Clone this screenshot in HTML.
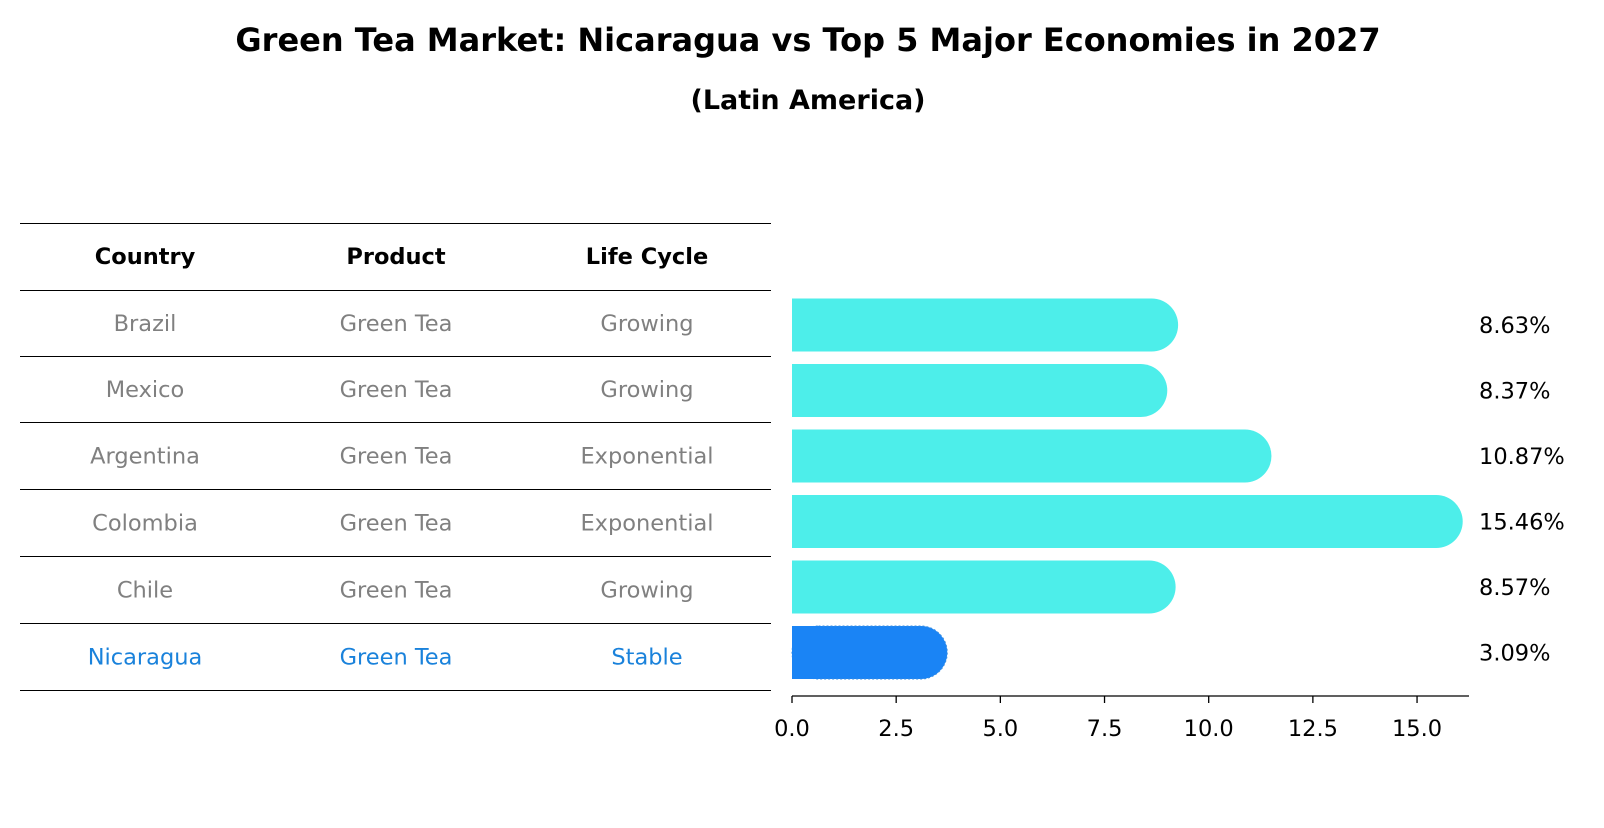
<!DOCTYPE html>
<html><head><meta charset="utf-8"><style>
body{margin:0;background:#fff;}
svg text{font-family:"DejaVu Sans","Liberation Sans",sans-serif;}
</style></head><body>
<svg id="c" width="1604" height="823" xmlns="http://www.w3.org/2000/svg">
<text x="808" y="51" text-anchor="middle" font-size="32" font-weight="bold">Green Tea Market: Nicaragua vs Top 5 Major Economies in 2027</text>
<text x="808" y="109" text-anchor="middle" font-size="27" font-weight="bold">(Latin America)</text>
<g id="table"></g>
<g id="bars"></g>
</svg>
<script>
const countries=["Brazil","Mexico","Argentina","Colombia","Chile","Nicaragua"];
const products=["Green Tea","Green Tea","Green Tea","Green Tea","Green Tea","Green Tea"];
const lifeCycles=["Growing","Growing","Exponential","Exponential","Growing","Stable"];
const values=[8.63,8.37,10.87,15.46,8.57,3.09];
const xTicks=[0,2.5,5,7.5,10,12.5,15];
const NS="http://www.w3.org/2000/svg";
function mk(tag,attrs,parent,text){const e=document.createElementNS(NS,tag);for(const k in attrs)e.setAttribute(k,attrs[k]);if(text!==undefined)e.textContent=text;parent.appendChild(e);return e;}
const x=v=>792+v*41.67;
const rowY=i=>325+i*65.5;
const tbl=document.getElementById('table');
const lines=[223,290,356,422,489,556,623,690];
lines.forEach((ly,i)=>{const l=mk('line',{x1:20,x2:771,y1:ly+0.5,y2:ly+0.5,stroke:'#000','stroke-width':1},tbl);

});
const cols=[145,396,647];
const FS=22.5;
["Country","Product","Life Cycle"].forEach((h,j)=>{const t=mk('text',{x:cols[j],y:264,'text-anchor':'middle','font-size':FS,'font-weight':'bold'},tbl,h);

});
countries.forEach((c,i)=>{const cy=(lines[i+1]+lines[i+2])/2+8;const col=i===countries.length-1?'#1a82db':'#808080';
[c,products[i],lifeCycles[i]].forEach((s,j)=>{const t=mk('text',{x:cols[j],y:cy,'text-anchor':'middle','font-size':FS,fill:col},tbl,s);

});});
const bg=document.getElementById('bars');
const h=53;
values.forEach((v,i)=>{const last=i===values.length-1;const cy=rowY(i);
const r=mk('rect',{x:x(0),y:cy-h/2,width:x(v)-x(0)+h/2,height:h,rx:h/2,ry:h/2,fill:last?'#1a84f5':'#4deeea'},bg);
if(last){r.setAttribute('stroke','#3a8ee0');r.setAttribute('stroke-dasharray','2 2');}


const cov=mk('rect',{x:x(0),y:cy-h/2,width:h/2+2,height:h,fill:last?'#1a84f5':'#4deeea'},bg);


const t=mk('text',{x:1479,y:cy+8,'font-size':FS},bg,v.toFixed(2)+'%');

});
const ax=mk('line',{x1:x(0),x2:1469,y1:696,y2:696,stroke:'#000','stroke-width':1.3},bg);


xTicks.forEach(v=>{const tk=mk('line',{x1:x(v),x2:x(v),y1:696,y2:703,stroke:'#000','stroke-width':1.3},bg);


const t=mk('text',{x:x(v),y:736,'text-anchor':'middle','font-size':FS},bg,v.toFixed(1));

});
</script>
</body></html>
